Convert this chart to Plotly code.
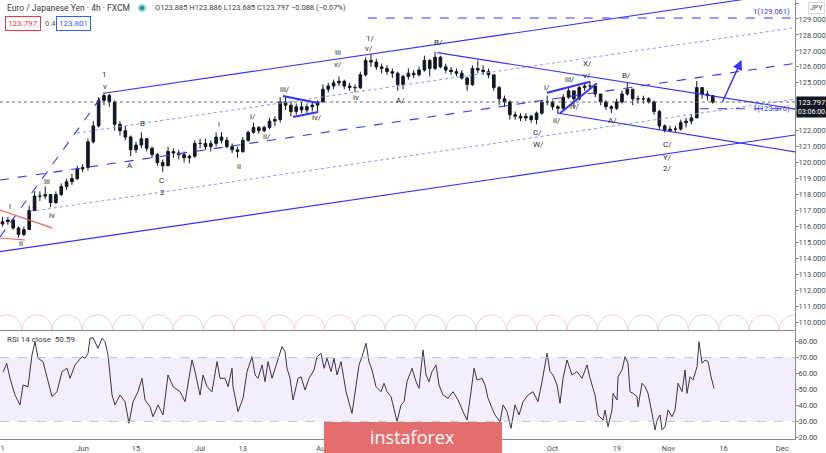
import math
import plotly.graph_objects as go

# ---------------- data (x = trading-day index, 0 = 11 May 2020) ----------------
day_index = list(range(134))
price_high = [116.6, 116.6, 116.5, 116.0, 116.0, 117.3, 118.2, 118.2, 118.5, 118.0,
              118.2, 118.7, 119.0, 119.3, 119.8, 119.9, 121.5, 122.6, 124.1, 124.4,
              124.3, 123.9, 122.6, 122.3, 121.7, 121.3, 121.9, 121.5, 121.0, 120.6,
              120.2, 121.0, 120.9, 120.8, 120.7, 120.5, 121.4, 121.5, 121.5, 121.4,
              121.9, 121.9, 121.6, 121.2, 121.0, 121.6, 122.0, 122.5, 122.3, 122.3,
              122.8, 122.9, 124.1, 124.1, 123.8, 123.7, 123.8, 123.7, 123.8, 123.9,
              124.9, 125.0, 125.2, 125.4, 125.2, 125.0, 124.9, 125.7, 126.6, 126.8,
              126.5, 126.2, 126.1, 125.9, 125.7, 125.5, 125.9, 125.8, 126.0, 126.7,
              126.5, 126.95, 126.7, 126.2, 126.0, 125.9, 125.8, 125.4, 126.1, 126.4,
              126.1, 125.9, 125.5, 124.8, 124.2, 123.9, 123.2, 123.1, 123.1, 123.0,
              123.2, 123.9, 124.2, 123.9, 123.6, 124.3, 124.7, 124.5, 124.8, 125.0,
              125.1, 124.8, 124.3, 123.9, 123.6, 124.0, 124.5, 125.0, 124.6, 124.2,
              124.2, 124.1, 123.9, 123.3, 122.4, 122.3, 122.3, 122.7, 122.8, 123.0,
              125.1, 124.7, 124.5, 124.2]
price_low = [116.0, 116.1, 115.8, 115.3, 115.4, 115.8, 117.0, 117.6, 117.7, 117.2,
             117.4, 117.9, 118.3, 118.6, 118.9, 119.4, 119.5, 121.2, 122.2, 123.6,
             123.5, 122.0, 121.7, 121.4, 120.4, 120.6, 120.9, 120.7, 120.3, 119.8,
             119.4, 119.8, 120.3, 120.2, 120.0, 119.95, 120.3, 120.9, 120.8, 120.7,
             121.0, 121.2, 120.9, 120.6, 120.3, 120.6, 121.3, 121.8, 121.8, 121.9,
             122.1, 122.3, 122.5, 123.3, 122.9, 123.0, 123.1, 123.1, 123.2, 123.2,
             123.8, 124.4, 124.6, 124.8, 124.6, 124.5, 124.4, 124.6, 125.4, 126.0,
             125.8, 125.6, 125.5, 125.3, 124.5, 124.6, 125.2, 125.3, 125.4, 125.7,
             125.4, 125.8, 125.9, 125.6, 125.5, 125.4, 125.2, 124.5, 124.8, 125.6,
             125.5, 125.3, 124.5, 123.6, 123.5, 122.7, 122.7, 122.6, 122.6, 122.5,
             122.4, 123.0, 123.6, 123.3, 123.1, 123.3, 124.0, 123.5, 123.9, 124.5,
             124.6, 124.1, 123.6, 123.3, 123.1, 123.3, 123.7, 124.2, 123.6, 123.7,
             123.7, 123.7, 123.0, 122.1, 121.9, 121.9, 121.9, 122.0, 122.2, 122.4,
             122.8, 124.0, 123.9, 123.69]
price_close = [116.3, 116.4, 115.9, 115.5, 115.8, 117.0, 117.9, 117.9, 118.0, 117.5,
               118.0, 118.5, 118.8, 119.0, 119.6, 119.7, 121.3, 122.3, 123.9, 124.2,
               123.8, 122.4, 122.0, 121.6, 120.8, 121.1, 121.5, 120.9, 120.5, 120.0,
               119.8, 120.7, 120.6, 120.5, 120.3, 120.4, 121.2, 121.2, 121.0, 121.2,
               121.6, 121.4, 121.0, 120.8, 120.7, 121.4, 121.9, 122.2, 122.0, 122.2,
               122.6, 122.7, 123.8, 123.6, 123.2, 123.5, 123.3, 123.5, 123.6, 123.8,
               124.6, 124.8, 125.0, 125.1, 124.8, 124.7, 124.7, 125.5, 126.4, 126.3,
               126.0, 125.9, 125.7, 125.6, 124.9, 125.4, 125.6, 125.5, 125.8, 126.4,
               125.9, 126.6, 126.0, 125.8, 125.7, 125.6, 125.3, 124.9, 125.9, 125.8,
               125.7, 125.5, 124.7, 124.0, 123.8, 123.0, 122.9, 122.8, 122.9, 122.7,
               123.1, 123.8, 123.8, 123.5, 123.4, 124.1, 124.5, 124.0, 124.7, 124.8,
               124.8, 124.3, 123.8, 123.5, 123.4, 123.8, 124.3, 124.6, 124.0, 124.0,
               124.0, 123.8, 123.2, 122.3, 122.0, 122.1, 122.1, 122.5, 122.6, 122.8,
               124.7, 124.3, 124.2, 123.797]
first_open = 116.15
price_open = [first_open] + price_close[:-1]

rsi_day = [0.15, 0.79, 1.40, 2.34, 3.28, 3.84, 4.78, 5.52, 6.09, 6.65, 7.58, 8.52, 9.27, 10.21,
           11.14, 12.08, 12.64, 13.58, 14.89, 15.45, 16.01, 16.39, 16.95, 17.88, 18.63, 19.19,
           19.76, 20.51, 21.07, 22.00, 22.94, 23.69, 24.44, 25.37, 26.12, 26.69, 27.62, 28.18,
           29.12, 30.06, 30.99, 31.93, 33.24, 34.18, 35.49, 36.05, 36.99, 37.55, 38.30, 39.23,
           40.17, 40.73, 41.67, 42.23, 42.98, 43.16, 44.10, 45.04, 45.79, 46.72, 47.29, 47.85,
           48.60, 49.16, 49.72, 50.47, 51.03, 51.59, 52.34, 52.90, 53.28, 53.84, 54.40, 55.34,
           55.90, 56.65, 57.40, 58.33, 58.90, 59.64, 60.21, 60.77, 61.52, 62.08, 62.64, 63.39,
           64.33, 65.45, 66.20, 66.76, 67.32, 68.07, 68.63, 69.19, 69.94, 70.88, 71.44, 72.00,
           72.75, 73.31, 73.88, 74.63, 75.19, 75.75, 76.69, 77.44, 78.00, 78.75, 79.31, 79.87,
           80.43, 81.18, 81.74, 82.49, 83.43, 84.36, 85.30, 86.24, 86.99, 87.73, 88.30, 88.86,
           89.79, 90.36, 90.92, 91.67, 92.23, 93.16, 93.73, 94.48, 95.22, 95.97, 96.72, 97.47,
           98.41, 99.34, 100.28, 101.03, 101.97, 102.53, 103.09, 103.84, 104.40, 104.96, 105.71,
           106.65, 107.58, 108.52, 109.46, 110.02, 110.96, 111.52, 111.89, 112.45, 112.83,
           113.39, 114.14, 114.33, 115.08, 115.26, 116.01, 116.57, 117.13, 117.51, 118.07,
           118.82, 119.01, 119.76, 120.32, 120.88, 121.63, 122.19, 122.57, 123.13, 123.50,
           124.06, 124.63, 125.37, 125.94, 126.50, 127.25, 127.81, 128.18, 128.75, 129.31,
           130.06, 130.43, 130.99, 131.55, 132.12, 132.68, 133.24]
rsi_value = [61.2, 66.4, 57.0, 46.5, 40.3, 52.8, 51.8, 71.7, 80.0, 69.6, 67.5, 54.9, 45.5, 48.6,
             61.2, 63.3, 57.0, 65.4, 70.6, 69.6, 72.7, 82.1, 82.5, 75.8, 82.1, 80.0,
             71.7, 46.5, 40.3, 46.5, 42.3, 28.8, 42.3, 48.6, 57.0, 43.4, 39.2, 32.9,
             40.3, 34.0, 59.1, 51.8, 48.6, 42.3, 68.5, 61.2, 46.5, 59.1, 51.8, 48.6,
             67.5, 57.0, 57.0, 51.8, 63.3, 51.8, 36.1, 44.5, 61.2, 70.6, 59.1, 57.0,
             65.4, 54.9, 67.5, 57.0, 63.3, 69.6, 76.9, 73.7, 63.3, 57.0, 43.4, 57.0,
             58.0, 49.7, 57.0, 62.2, 70.6, 72.7, 63.3, 69.6, 61.2, 69.6, 59.1, 67.5,
             48.6, 35.0, 52.8, 65.4, 70.6, 79.0, 67.5, 62.2, 51.8, 48.6, 53.9, 48.6,
             45.5, 38.2, 29.8, 40.3, 42.3, 54.9, 63.3, 54.9, 50.7, 74.8, 59.1, 54.9,
             61.2, 65.4, 52.8, 46.5, 44.5, 48.6, 43.4, 36.1, 30.8, 48.6, 63.3, 55.9,
             57.0, 52.8, 44.5, 38.2, 34.0, 29.8, 40.3, 36.1, 25.6, 40.3, 34.0, 42.3,
             46.5, 48.6, 42.3, 54.9, 72.7, 61.2, 59.1, 52.8, 41.3, 57.0, 68.5,
             59.1, 61.2, 57.0, 65.4, 57.0, 46.5, 34.0, 32.9, 30.8, 37.1,
             26.6, 37.1, 47.6, 43.4, 58.0, 62.2, 70.6, 66.4, 48.6, 47.6,
             45.5, 39.2, 53.9, 51.8, 47.6, 35.0, 24.6, 30.8, 34.0, 24.6,
             26.6, 37.1, 32.9, 37.1, 53.9, 48.6, 62.2, 47.6, 58.0, 56.0,
             64.3, 80.0, 66.4, 68.5, 67.5, 58.0, 50.59]

date_tick_days = [0, 15, 25, 37, 45, 60, 70, 81, 90, 103, 115, 124.7, 135, 146]
date_tick_text = ["1", "Jun", "15", "Jul", "13", "Aug", "17", "Sep", "14", "Oct", "19", "Nov", "16", "Dec"]
price_ticks = list(range(110, 131))
hidden_price_ticks = [123, 124]   # covered by the last-price / countdown labels
rsi_ticks = [20, 30, 40, 50, 60, 70, 80]

last_close = 123.797
ask_price = 123.801
spread_text = "0.4"
ohlc_text = "O123.885 H123.886 L123.685 C123.797 \u22120.088 (\u22120.07%)"
rsi_last = 50.59
fib_top = 129.061
fib_low = 123.376

# analyst drawings, in (day, price)
channel_lines = [  # (x0, y0, x1, y1, style)
    (19.0, 124.35, 148.4, 130.70, "solid"),
    (13.95, 121.86, 148.4, 128.46, "dotq"),
    (-0.47, 118.91, 148.4, 126.22, "dash"),
    (5.15, 116.94, 148.4, 123.97, "dotq"),
    (-0.47, 114.42, 148.4, 121.73, "solid"),
    (-0.47, 115.34, 19.0, 124.35, "dash"),
    (81.4, 126.89, 148.4, 123.36, "solid"),
    (103.8, 123.11, 148.4, 120.67, "solid"),
    (52.5, 124.18, 59.1, 123.74, "thick"),
    (54.4, 122.86, 59.1, 123.17, "thick"),
    (101.97, 124.38, 110.0, 125.07, "thick"),
    (104.4, 123.09, 111.3, 124.97, "thick"),
    (-0.47, 117.03, 9.27, 115.91, "red"),
    (-0.47, 115.28, 4.2, 115.15, "red"),
    (68.4, fib_top, 148.4, fib_top, "fib"),
    (130.6, fib_low, 148.4, fib_low, "fib"),
]
arrow_from = (134.7, 123.72)
arrow_to = (138.4, 126.43)

cycle_start = 3.6
cycle_len = 5.674

wave_labels = [
    ("i", 1.40, 117.22), ("ii", 3.46, 114.96), ("iii", 8.33, 118.79), ("iv", 9.27, 116.66),
    ("1", 19.19, 125.55), ("v", 19.19, 124.80), ("A", 23.88, 119.85), ("B", 26.22, 122.48),
    ("C", 29.68, 118.91), ("2", 29.87, 118.10), ("i", 40.54, 122.36), ("ii", 44.29, 119.73),
    ("i/", 46.91, 122.86), ("ii/", 49.53, 121.61), ("iii/", 52.90, 124.61), ("iv/", 58.90, 122.80),
    ("iii", 62.83, 126.93), ("v/", 62.83, 126.12), ("iv", 66.20, 124.05), ("1/", 68.82, 127.75),
    ("v/", 68.63, 127.12), ("A/", 74.44, 123.92), ("B/", 81.56, 127.50), ("C/", 100.09, 121.86),
    ("W/", 100.28, 121.11), ("i/", 101.97, 124.68), ("ii/", 103.84, 122.67), ("iii/", 106.27, 125.18),
    ("iv/", 107.21, 123.49), ("v/", 109.46, 125.49), ("X/", 109.46, 126.24), ("A/", 114.14, 122.67),
    ("B/", 116.76, 125.49), ("C/", 124.44, 121.11), ("Y/", 124.44, 120.35), ("2/", 124.44, 119.66),
]

# ---------------- layout geometry ----------------
W, H = 826, 453
PW, PH = 795, 439            # plot area in pixels
X_RANGE = [-0.47, 148.4]
Y_RANGE = [109.51, 130.19]
R_RANGE = [18.92, 86.7]
MAIN_DOMAIN = [(PH - 330) / PH, 1.0]
RSI_DOMAIN = [0.0, (PH - 331) / PH]
FONT = "Roboto, Arial, sans-serif"
BLUE = "#3434f2"


def px(xp):
    return xp / PW


def py(yp):
    return (PH - yp) / PH


fig = go.Figure()

# pink time-cycle arcs along the bottom of the price pane
arc_x, arc_y = [], []
r_y = 0.95
for k in range(-1, 26):
    c = cycle_start + (k + 0.5) * cycle_len
    for j in range(31):
        t = math.pi * j / 30
        arc_x.append(c + cycle_len / 2 * math.cos(t))
        arc_y.append(Y_RANGE[0] + r_y * math.sin(t))
    arc_x.append(None)
    arc_y.append(None)
fig.add_trace(go.Scatter(x=arc_x, y=arc_y, mode="lines", line=dict(color="#f6cdd0", width=1),
                         hoverinfo="skip", showlegend=False, xaxis="x", yaxis="y"))

# current price dotted line
fig.add_trace(go.Scatter(x=X_RANGE, y=[last_close, last_close], mode="lines",
                         line=dict(color="#6b6b6b", width=1, dash="dot"),
                         hoverinfo="skip", showlegend=False, xaxis="x", yaxis="y"))

styles = {
    "solid": dict(color=BLUE, width=1.1),
    "dash": dict(color=BLUE, width=1.1, dash="dash"),
    "dotq": dict(color="#9090f5", width=1, dash="dot"),
    "thick": dict(color=BLUE, width=2),
    "red": dict(color="#f25a5a", width=1.1),
    "fib": dict(color=BLUE, width=1, dash="dash"),
}
for x0, y0, x1, y1, st in channel_lines:
    fig.add_trace(go.Scatter(x=[x0, x1], y=[y0, y1], mode="lines", line=styles[st],
                             hoverinfo="skip", showlegend=False, xaxis="x", yaxis="y"))

fig.add_trace(go.Candlestick(
    x=day_index, open=price_open, high=price_high, low=price_low, close=price_close,
    increasing=dict(line=dict(color="#131722", width=1), fillcolor="#131722"),
    decreasing=dict(line=dict(color="#131722", width=1), fillcolor="#131722"),
    whiskerwidth=0, hoverinfo="skip", showlegend=False, xaxis="x", yaxis="y"))

# RSI
fig.add_trace(go.Scatter(x=rsi_day, y=rsi_value, mode="lines", line=dict(color="#3e3150", width=1),
                         hoverinfo="skip", showlegend=False, xaxis="x2", yaxis="y2"))

shapes = [
    dict(type="rect", xref="paper", yref="y2", x0=0, x1=1, y0=30, y1=70,
         fillcolor="rgba(149,100,230,0.11)", line=dict(width=0), layer="below"),
    dict(type="line", xref="paper", yref="y2", x0=0, x1=1, y0=70, y1=70,
         line=dict(color="#c2c2c8", width=1, dash="dash")),
    dict(type="line", xref="paper", yref="y2", x0=0, x1=1, y0=30, y1=30,
         line=dict(color="#c2c2c8", width=1, dash="dash")),
    dict(type="circle", xref="paper", yref="paper", x0=px(138.5), x1=px(145.5), y0=py(11.5), y1=py(4.5),
         fillcolor="#22a08f", line=dict(color="#bfe6e0", width=2)),
    # watermark
    dict(type="rect", xref="paper", yref="paper", x0=px(324), x1=px(502), y0=py(453), y1=py(422),
         fillcolor="#e46e6e", line=dict(width=0), layer="above"),
]

annotations = []
for txt, dx, pr in wave_labels:
    annotations.append(dict(x=dx, y=pr, xref="x", yref="y", text=txt, showarrow=False,
                            font=dict(family=FONT, size=8, color="#2a2a2a")))

annotations.append(dict(x=arrow_to[0], y=arrow_to[1], ax=arrow_from[0], ay=arrow_from[1],
                        xref="x", yref="y", axref="x", ayref="y", text="", showarrow=True,
                        arrowhead=2, arrowsize=1.3, arrowwidth=1.5, arrowcolor=BLUE))

annotations += [
    dict(x=px(5), y=py(8), xref="paper", yref="paper", xanchor="left", yanchor="middle",
         text="Euro / Japanese Yen \u00b7 4h \u00b7 FXCM", showarrow=False,
         font=dict(family=FONT, size=8.5, color="#3a3a3a")),
    dict(x=px(153), y=py(8), xref="paper", yref="paper", xanchor="left", yanchor="middle",
         text=ohlc_text, showarrow=False, font=dict(family=FONT, size=7.5, color="#3a3a3a")),
    dict(x=px(5), y=py(24), xref="paper", yref="paper", xanchor="left", yanchor="middle",
         text=f"{last_close:.3f}", showarrow=False, bordercolor="#f23645", borderwidth=1, borderpad=2,
         font=dict(family=FONT, size=8, color="#f23645")),
    dict(x=px(43), y=py(24), xref="paper", yref="paper", xanchor="left", yanchor="middle",
         text=spread_text, showarrow=False, font=dict(family=FONT, size=7.5, color="#555")),
    dict(x=px(56), y=py(24), xref="paper", yref="paper", xanchor="left", yanchor="middle",
         text=f"{ask_price:.3f}", showarrow=False, bordercolor="#2962ff", borderwidth=1, borderpad=2,
         font=dict(family=FONT, size=8, color="#2962ff")),
    dict(x=px(5), y=py(339), xref="paper", yref="paper", xanchor="left", yanchor="middle",
         text=f"RSI 14 close  {rsi_last:.2f}", showarrow=False,
         font=dict(family=FONT, size=8, color="#3a3a3a")),
    dict(x=px(792), y=fib_top, xref="paper", yref="y", xanchor="right", yanchor="bottom",
         text=f"1({fib_top:.3f})", showarrow=False, font=dict(family=FONT, size=7.5, color=BLUE)),
    dict(x=px(792), y=fib_low, xref="paper", yref="y", xanchor="right", yanchor="middle",
         text=f"1({fib_low:.3f})", showarrow=False, font=dict(family=FONT, size=7.5, color=BLUE)),
    dict(x=px(796), y=last_close, xref="paper", yref="y", xanchor="left", yanchor="middle",
         text=f"{last_close:.3f}", showarrow=False, bgcolor="#131722", borderpad=1,
         font=dict(family=FONT, size=7.5, color="white")),
    dict(x=px(796), y=py(111.5), xref="paper", yref="paper", xanchor="left", yanchor="middle",
         text="03:06:00", showarrow=False, bgcolor="#131722", borderpad=1,
         font=dict(family=FONT, size=7, color="white")),
    dict(x=px(808), y=py(8), xref="paper", yref="paper", xanchor="left", yanchor="middle",
         text="JPY", showarrow=False, bgcolor="white", bordercolor="#d6d6dc", borderwidth=1, borderpad=1,
         font=dict(family=FONT, size=7, color="#555")),
    dict(x=px(412), y=py(437), xref="paper", yref="paper", xanchor="center", yanchor="middle",
         text="instaforex", showarrow=False, font=dict(family="Open Sans, sans-serif", size=18, color="white")),
]

axis_common = dict(showgrid=False, zeroline=False, automargin=False, linecolor="#8a8a8a",
                   tickcolor="#8a8a8a", tickfont=dict(family=FONT, size=7.5, color="#4a4a4a"))

price_ticktext = ["" if v in hidden_price_ticks else f"{v:.3f}" for v in price_ticks]

fig.update_layout(
    width=W, height=H, margin=dict(l=0, r=W - PW, t=0, b=H - PH, pad=0, autoexpand=False),
    paper_bgcolor="white", plot_bgcolor="white", showlegend=False,
    xaxis=dict(domain=[0, 1], range=X_RANGE, anchor="y", showticklabels=False, showline=True,
               rangeslider=dict(visible=False), ticks="", **axis_common),
    yaxis=dict(domain=MAIN_DOMAIN, range=Y_RANGE, anchor="x", side="right", showline=True,
               ticks="outside", ticklen=3, ticklabelstandoff=-2, tickvals=price_ticks,
               ticktext=price_ticktext, **axis_common),
    xaxis2=dict(domain=[0, 1], range=X_RANGE, anchor="y2", matches="x", showline=True,
                ticks="", ticklabelstandoff=2, tickvals=date_tick_days, ticktext=date_tick_text,
                **axis_common),
    yaxis2=dict(domain=RSI_DOMAIN, range=R_RANGE, anchor="x2", side="right", showline=True,
                ticks="outside", ticklen=3, ticklabelstandoff=-2, tickvals=rsi_ticks,
                ticktext=[f"{v:.2f}" for v in rsi_ticks], **axis_common),
    shapes=shapes, annotations=annotations,
)

fig.write_html("out.html", config={"displayModeBar": False},
               post_script="document.body.style.margin='0';document.body.style.overflow='hidden';")
